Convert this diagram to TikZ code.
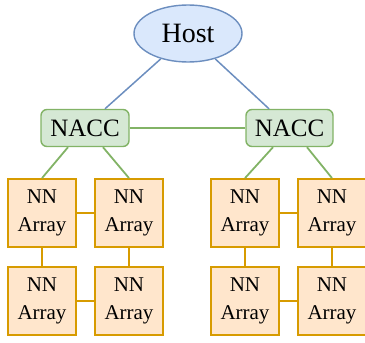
\documentclass[tikz,border=0pt]{standalone}
\usepackage{fontspec}
\setmainfont{Liberation Serif}
\usetikzlibrary{shapes.geometric}
\definecolor{hostfill}{HTML}{DAE8FC}
\definecolor{hostdraw}{HTML}{6C8EBF}
\definecolor{naccfill}{HTML}{D5E8D4}
\definecolor{naccdraw}{HTML}{82B366}
\definecolor{nnfill}{HTML}{FFE6CC}
\definecolor{nndraw}{HTML}{D79B00}
\begin{document}
\begin{tikzpicture}[x=1pt,y=-1pt,
 hostnode/.style={ellipse, draw=hostdraw, fill=hostfill, line width=1.4pt, minimum width=108pt, minimum height=57pt, inner sep=0pt, font=\rmfamily\fontsize{28}{30}\selectfont},
 naccnode/.style={rectangle, rounded corners=6pt, draw=naccdraw, fill=naccfill, line width=1.4pt, minimum width=88pt, minimum height=37pt, inner sep=0pt, font=\rmfamily\fontsize{25}{28}\selectfont},
 nnnode/.style={rectangle, draw=nndraw, fill=nnfill, line width=1.8pt, minimum width=68pt, minimum height=68pt, inner sep=0pt, align=center, font=\rmfamily\fontsize{21}{28}\selectfont},
 hostline/.style={draw=hostdraw, line width=1.5pt},
 naccline/.style={draw=naccdraw, line width=1.8pt},
 nnline/.style={draw=nndraw, line width=2pt}]
\useasboundingbox (0,0) rectangle (365,343);

\node[hostnode] (host) at (188,33.5) {Host};
\node[naccnode] (naccL) at (85,128) {NACC};
\node[naccnode, minimum width=87pt] (naccR) at (289.5,128) {NACC};

\node[nnnode] (a1) at (42,213) {NN\\Array};
\node[nnnode] (a2) at (129,213) {NN\\Array};
\node[nnnode] (a3) at (42,301) {NN\\Array};
\node[nnnode] (a4) at (129,301) {NN\\Array};
\node[nnnode] (b1) at (245,213) {NN\\Array};
\node[nnnode] (b2) at (332,213) {NN\\Array};
\node[nnnode] (b3) at (245,301) {NN\\Array};
\node[nnnode] (b4) at (332,301) {NN\\Array};

\draw[hostline] (host.-137) -- ([xshift=20pt]naccL.north);
\draw[hostline] (host.-43) -- ([xshift=-20.5pt]naccR.north);
\draw[naccline] (naccL.east) -- (naccR.west);
\draw[naccline] ([xshift=-17pt]naccL.south) -- (a1.north);
\draw[naccline] ([xshift=18pt]naccL.south) -- (a2.north);
\draw[naccline] ([xshift=-16.5pt]naccR.south) -- (b1.north);
\draw[naccline] ([xshift=17.5pt]naccR.south) -- (b2.north);

\draw[nnline] (a1.east) -- (a2.west);
\draw[nnline] (a1.south) -- (a3.north);
\draw[nnline] (a2.south) -- (a4.north);
\draw[nnline] (a3.east) -- (a4.west);
\draw[nnline] (b1.east) -- (b2.west);
\draw[nnline] (b1.south) -- (b3.north);
\draw[nnline] (b2.south) -- (b4.north);
\draw[nnline] (b3.east) -- (b4.west);
\end{tikzpicture}
\end{document}
